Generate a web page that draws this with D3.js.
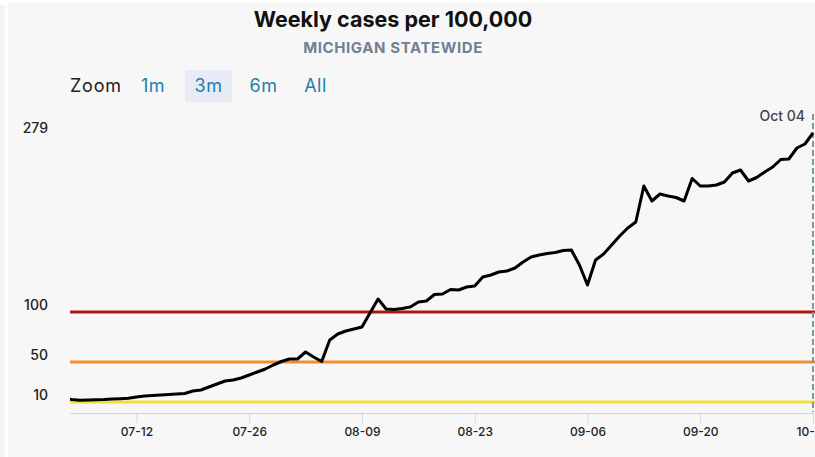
<!DOCTYPE html>
<html>
<head>
<meta charset="utf-8">
<script src="https://cdn.jsdelivr.net/npm/d3@7"></script>
<style>
  body { margin: 0; background: #fff; }
  svg text { font-family: Inter, "Noto Sans", sans-serif; }
</style>
</head>
<body>
<div id="chart"></div>
<script>
// data: weekly cases per 100,000, one value per day starting at startDate
const startDate = "2020-07-03";
const values = [
  13.5, 12.5, 11.7, 12, 12.2, 12.5, 13, 13.3, 13.7, 15,
  16, 16.5, 17, 17.5, 18, 18.5, 21, 22, 25, 28,
  31, 32, 34, 37, 40, 43, 47, 50.5, 53, 53,
  60, 55, 50.5, 72, 78, 81, 83, 85, 99, 113,
  103, 102.5, 103.5, 105, 110, 111, 117.5, 118, 122.5, 122,
  125, 126, 135, 137, 140, 141, 144, 150, 155, 157,
  158.5, 159.5, 161.5, 162, 147, 127, 152, 158, 167, 176,
  184, 190, 226, 211, 218, 216, 214.5, 211, 233.5, 226,
  226, 227, 230, 239, 242, 231, 234.5, 240, 245, 252.5,
  253, 264, 268, 279
];
const thresholds = [10, 50, 100];
const thresholdColors = ["#f2df3d", "#f48e2c", "#b0170d"];
const yTicks = [10, 50, 100, 279];
const xTicks = ["2020-07-12", "2020-07-26", "2020-08-09", "2020-08-23", "2020-09-06", "2020-09-20", "2020-10-04"];
const viewStart = "2020-07-04", viewEnd = "2020-10-04";
const zoomButtons = ["1m", "3m", "6m", "All"];
const selectedButton = "3m";

const W = 815, H = 457;
const plot = {left: 70, right: 813, top: 133, bottom: 412};

const parse = d3.timeParse("%Y-%m-%d");
const data = values.map((v, i) => ({date: d3.timeDay.offset(parse(startDate), i), value: v}));

const svg = d3.select("#chart").append("svg")
    .attr("width", W)
    .attr("height", H);

// panel backgrounds
svg.append("rect").attr("x", 0).attr("y", 5).attr("width", 5).attr("height", H).attr("fill", "#f4f4f4");
svg.append("rect").attr("x", 8).attr("y", 3).attr("width", W - 8).attr("height", H).attr("fill", "#f7f7f7");

// titles
svg.append("text")
    .attr("x", 393).attr("y", 27)
    .attr("text-anchor", "middle")
    .attr("font-size", 21.5).attr("font-weight", 700).attr("fill", "#111")
    .text("Weekly cases per 100,000");
svg.append("text")
    .attr("x", 393).attr("y", 52.5)
    .attr("text-anchor", "middle")
    .attr("font-size", 15).attr("font-weight", 700).attr("fill", "#6f8190")
    .attr("letter-spacing", 0.6)
    .text("MICHIGAN STATEWIDE");

// range selector
svg.append("text")
    .attr("x", 70).attr("y", 92)
    .attr("font-size", 18).attr("fill", "#222")
    .attr("letter-spacing", 0.8)
    .text("Zoom");
const btnX = {"1m": 153, "3m": 208.5, "6m": 263.5, "All": 315.5};
const btns = svg.append("g").selectAll("g").data(zoomButtons).join("g");
btns.filter(d => d === selectedButton).append("rect")
    .attr("x", d => btnX[d] - 23.5).attr("y", 70)
    .attr("width", 47).attr("height", 32).attr("rx", 2)
    .attr("fill", "#e6ebf5");
btns.append("text")
    .attr("x", d => btnX[d]).attr("y", 92)
    .attr("text-anchor", "middle")
    .attr("font-size", 18).attr("fill", "#1f7fa8")
    .attr("letter-spacing", 0.5)
    .text(d => d);

// scales
const x = d3.scaleTime()
    .domain([parse(viewStart), parse(viewEnd)])
    .range([72, plot.right]);
const y = d3.scaleLinear()
    .domain([0, 279])
    .range([plot.bottom, plot.top]);

// x axis
const xAxis = d3.axisBottom(x)
    .tickValues(xTicks.map(parse))
    .tickSize(10)
    .tickFormat(d3.timeFormat("%m-%d"));
svg.append("g")
    .attr("transform", `translate(0,${plot.bottom + 1})`)
    .call(xAxis)
    .call(g => g.select(".domain").attr("d", `M${plot.left},0.5H${plot.right}`).attr("stroke", "#ccd6eb"))
    .call(g => g.selectAll(".tick line").attr("stroke", "#ccd6eb"))
    .call(g => g.selectAll(".tick text")
        .attr("y", 14).attr("font-size", 12).attr("font-weight", 500).attr("fill", "#222"));

// y labels (no axis line), top label kept inside the plot
svg.append("g").selectAll("text").data(yTicks).join("text")
    .attr("x", 48).attr("y", d => Math.max(y(d) - 2, plot.top))
    .attr("text-anchor", "end")
    .attr("font-size", 14).attr("font-weight", 500).attr("fill", "#222")
    .text(d => d);

// threshold lines
svg.append("g").selectAll("line").data(thresholds).join("line")
    .attr("x1", plot.left).attr("x2", plot.right + 2)
    .attr("y1", d => y(d)).attr("y2", d => y(d))
    .attr("stroke", (d, i) => thresholdColors[i])
    .attr("stroke-width", 3);

// clip for the line
svg.append("clipPath").attr("id", "clip")
    .append("rect")
    .attr("x", plot.left).attr("y", 0)
    .attr("width", W - plot.left).attr("height", H);

// current date marker
const last = data[data.length - 1];
svg.append("line")
    .attr("x1", x(last.date)).attr("x2", x(last.date))
    .attr("y1", 114).attr("y2", plot.bottom)
    .attr("stroke", "#7d98a3").attr("stroke-width", 2)
    .attr("stroke-dasharray", "6,3");
svg.append("text")
    .attr("x", 805).attr("y", 121)
    .attr("text-anchor", "end")
    .attr("font-size", 14).attr("font-weight", 500).attr("fill", "#444")
    .text(d3.timeFormat("%b %d")(last.date));

const line = d3.line()
    .x(d => x(d.date))
    .y(d => y(d.value));

svg.append("path")
    .datum(data)
    .attr("clip-path", "url(#clip)")
    .attr("fill", "none")
    .attr("stroke", "#000")
    .attr("stroke-width", 3)
    .attr("stroke-linejoin", "round")
    .attr("d", line);
</script>
</body>
</html>
